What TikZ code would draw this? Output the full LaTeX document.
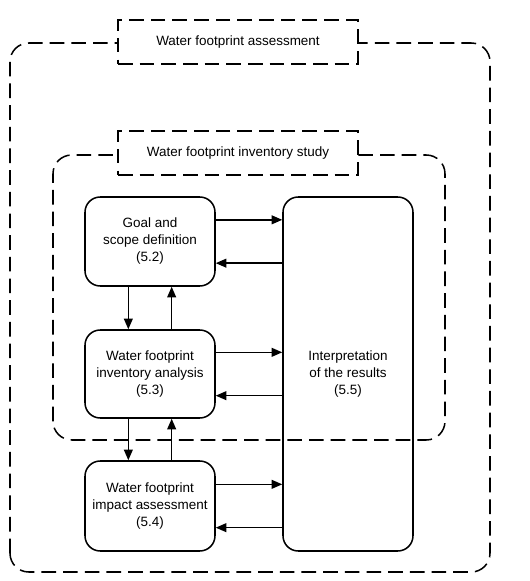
\documentclass[tikz,border=0pt]{standalone}
\usepackage{fontspec}
\setmainfont{Liberation Sans}
\usetikzlibrary{arrows.meta}

\begin{document}
\begin{tikzpicture}[
	font=\fontsize{11.5}{14.5}\selectfont,
	frame/.style={draw, line width=1.3pt, dash pattern=on 12.5pt off 6pt, rounded corners=16pt},
	tag/.style={draw, fill=white, line width=1.3pt, dash pattern=on 12.5pt off 6pt, minimum width=7.2cm, minimum height=1.32cm},
	phase/.style={draw, line width=1.3pt, rounded corners=13pt, align=center, minimum width=3.9cm, inner sep=2pt},
	arr/.style={line width=1.2pt, -{Triangle[length=9pt, width=7.5pt]}}
]
	\useasboundingbox (0,0) rectangle (15.87,17.43);

	% frames
	\draw[frame] (0.30,0.27) rectangle (14.70,16.14);
	\node[tag] (wfa) at (7.14,16.17) {Water footprint assessment};
	\draw[frame] (1.59,4.23) rectangle (13.35,12.78);
	\node[tag] (wfis) at (7.14,12.84) {Water footprint inventory study};

	% phases
	\node[phase, minimum height=2.67cm] (goal) at (4.5,10.185) {Goal and\\scope definition\\(5.2)};
	\node[phase, minimum height=2.64cm] (inventory) at (4.5,6.21) {Water footprint\\inventory analysis\\(5.3)};
	\node[phase, minimum height=2.7cm] (impact) at (4.5,2.25) {Water footprint\\impact assessment\\(5.4)};
	\node[phase, minimum height=10.62cm] (interp) at (10.44,6.21) {Interpretation\\of the results\\(5.5)};

	% links to interpretation
	\foreach \n in {goal, inventory, impact} {
		\draw[arr] ([yshift=0.65cm]\n.east) -- ([yshift=0.65cm]\n.east -| interp.west);
		\draw[arr] ([yshift=-0.65cm]\n.east -| interp.west) -- ([yshift=-0.65cm]\n.east);
	}

	% links between phases
	\draw[arr] ([xshift=-0.65cm]goal.south) -- ([xshift=-0.65cm]inventory.north);
	\draw[arr] ([xshift=0.65cm]inventory.north) -- ([xshift=0.65cm]goal.south);
	\draw[arr] ([xshift=-0.65cm]inventory.south) -- ([xshift=-0.65cm]impact.north);
	\draw[arr] ([xshift=0.65cm]impact.north) -- ([xshift=0.65cm]inventory.south);
\end{tikzpicture}
\end{document}
